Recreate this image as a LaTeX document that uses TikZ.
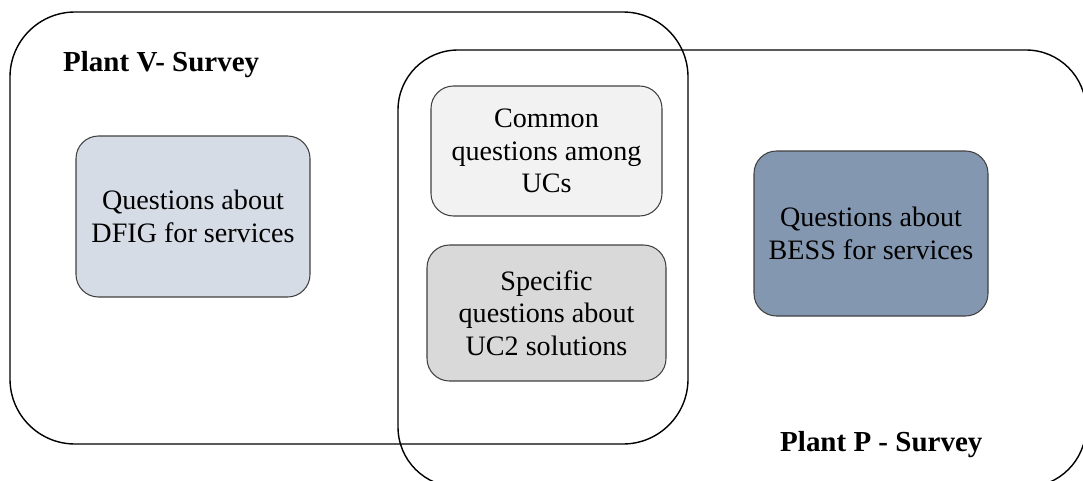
\documentclass[tikz,border=0pt]{standalone}
\usepackage{fontspec}
\setmainfont{Liberation Serif}
\definecolor{dfigblue}{HTML}{D6DCE5}
\definecolor{commongray}{HTML}{F2F2F2}
\definecolor{specgray}{HTML}{D9D9D9}
\definecolor{bessblue}{HTML}{8497B0}
\tikzset{
  qbox/.style={draw=black!75, line width=0.6pt, rounded corners=0.45cm, align=center,
    font=\fontsize{16}{18.5}\selectfont, inner sep=2pt},
  survey/.style={font=\fontsize{16.5}{19}\selectfont\bfseries}
}
\begin{document}
\begin{tikzpicture}
  \useasboundingbox (0,0) rectangle (21.66,9.6);
  \clip (0,0) rectangle (21.66,9.6);

  \draw[line width=0.8pt, rounded corners=1.3cm] (0.2,0.72) rectangle (13.76,9.36);
  \draw[line width=0.8pt, rounded corners=1.2cm] (7.96,-0.14) rectangle (21.72,8.6);

  \node[survey, anchor=base west] (titleV) at (1.14,8.18) {Plant V- Survey};
  \node[survey, anchor=base west] (titleP) at (15.48,0.58) {Plant P - Survey};

  \node[qbox, fill=dfigblue, minimum width=4.68cm, minimum height=3.22cm] (dfig) at (3.86,5.27)
    {Questions about\\DFIG for services};
  \node[qbox, fill=commongray, minimum width=4.62cm, minimum height=2.6cm] (common) at (10.93,6.58)
    {Common\\questions among\\UCs};
  \node[qbox, fill=specgray, minimum width=4.78cm, minimum height=2.72cm] (specific) at (10.93,3.34)
    {Specific\\questions about\\UC2 solutions};
  \node[qbox, fill=bessblue, minimum width=4.68cm, minimum height=3.3cm] (bess) at (17.42,4.93)
    {Questions about\\BESS for services};
\end{tikzpicture}
\end{document}
